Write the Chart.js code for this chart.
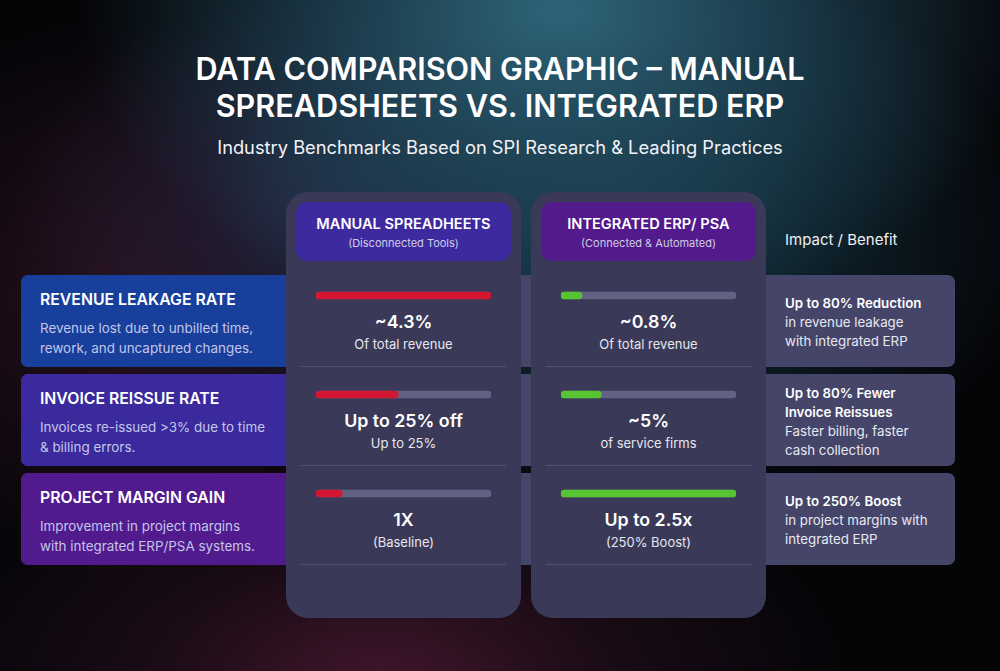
<!DOCTYPE html>
<html><head><meta charset="utf-8">
<script src="https://cdn.jsdelivr.net/npm/chart.js@4.4.0/dist/chart.umd.min.js"></script>
<style>
html,body{margin:0;padding:0;width:1000px;height:671px;overflow:hidden;font-family:Inter,"Noto Sans",sans-serif;}
body{background:
 radial-gradient(ellipse 480px 320px at 560px 10px, rgba(46,100,120,1), rgba(36,80,100,0.7) 45%, rgba(0,0,0,0) 100%),
 radial-gradient(ellipse 420px 280px at 620px 230px, rgba(22,60,76,0.9), rgba(0,0,0,0) 100%),
 radial-gradient(ellipse 320px 220px at 330px 210px, rgba(42,38,70,0.8), rgba(0,0,0,0) 100%),
 radial-gradient(ellipse 460px 240px at 380px 680px, rgba(64,22,44,1), rgba(40,16,30,0.6) 50%, rgba(0,0,0,0) 100%),
 radial-gradient(ellipse 280px 280px at 120px 300px, rgba(54,20,38,0.7), rgba(0,0,0,0) 100%),
 #050508;}
.abs{position:absolute;}
.title{left:0;width:1000px;top:50px;text-align:center;color:#fff;font-weight:600;font-size:30.6px;line-height:37px;}
.sub{left:0;width:1000px;top:136px;text-align:center;color:#f2f2f6;font-size:18.3px;}
.band{left:21px;width:934px;height:92px;background:#454569;border-radius:7px;}
.lab{left:21px;width:265px;height:92px;border-radius:7px 0 0 7px;}
.lab .h{position:absolute;left:19px;top:15px;color:#fff;font-weight:600;font-size:15.8px;}
.lab .d{position:absolute;left:19px;top:43px;color:#c4c6ea;font-size:13.4px;line-height:20px;}
.card{width:235px;top:192px;height:426px;background:#3a3a58;border-radius:22px;}
.hdr{width:215px;height:59px;top:202px;border-radius:11px;text-align:center;}
.hdr .a{margin-top:13px;color:#fff;font-weight:600;font-size:14.6px;}
.hdr .b{margin-top:3px;color:#d0cfe6;font-size:11px;}
.val{width:235px;text-align:center;}
.val .v{color:#fff;font-weight:600;font-size:17.8px;}
.val .s{color:#e6e6f0;font-size:13px;margin-top:4px;}
.div{height:1px;width:205px;background:#51527a;}
.imp{left:785px;color:#e8e8f2;font-size:13.3px;line-height:19px;}
.imp b{font-weight:600;color:#fff;}
canvas{display:block;}
</style></head><body>
<div id="root"></div>
<script>
// ---- data ----
const metrics = ["REVENUE LEAKAGE RATE", "INVOICE REISSUE RATE", "PROJECT MARGIN GAIN"];
const metricDesc = [
  "Revenue lost due to unbilled time,<br>rework, and uncaptured changes.",
  "Invoices re-issued &gt;3% due to time<br>&amp; billing errors.",
  "Improvement in project margins<br>with integrated ERP/PSA systems."
];
const manualFill = [100, 47, 15];   // bar fill (% of track)
const erpFill = [12, 23, 100];
const trackMax = [100, 100, 100];
const manualValue = ["~4.3%", "Up to 25% off", "1X"];
const manualNote = ["Of total revenue", "Up to 25%", "(Baseline)"];
const erpValue = ["~0.8%", "~5%", "Up to 2.5x"];
const erpNote = ["Of total revenue", "of service firms", "(250% Boost)"];
const impactHead = ["Up to 80% Reduction", "Up to 80% Fewer<br>Invoice Reissues", "Up to 250% Boost"];
const impactBody = ["in revenue leakage<br>with integrated ERP", "Faster billing, faster<br>cash collection", "in project margins with<br>integrated ERP"];

// ---- layout ----
const root = document.getElementById('root');
function el(cls, style, html){const d=document.createElement('div');d.className='abs '+cls;Object.assign(d.style,style);if(html!==undefined)d.innerHTML=html;root.appendChild(d);return d;}
el('title',{}, "DATA COMPARISON GRAPHIC – MANUAL<br>SPREADSHEETS VS. INTEGRATED ERP");
el('sub',{}, "Industry Benchmarks Based on SPI Research &amp; Leading Practices");
const rowTop=[275,374,473];
const labColors=["#173f9b","#3a2a9d","#511b8d"];
rowTop.forEach((t,i)=>{
  el('band',{top:t+'px'});
  el('lab',{top:t+'px',background:labColors[i]}, `<div class="h">${metrics[i]}</div><div class="d">${metricDesc[i]}</div>`);
});
el('card',{left:'286px'});
el('card',{left:'531px'});
el('hdr',{left:'296px',background:'#3d2a9f'},'<div class="a">MANUAL SPREADHEETS</div><div class="b">(Disconnected Tools)</div>');
el('hdr',{left:'541px',background:'#521a8b'},'<div class="a">INTEGRATED ERP/ PSA</div><div class="b">(Connected &amp; Automated)</div>');
el('imp',{top:'230px',fontSize:'15px',color:'#eef0f4'},'Impact / Benefit');
rowTop.forEach((t,i)=>{
  el('val',{left:'286px',top:(t+36)+'px'},`<div class="v">${manualValue[i]}</div><div class="s">${manualNote[i]}</div>`);
  el('val',{left:'531px',top:(t+36)+'px'},`<div class="v">${erpValue[i]}</div><div class="s">${erpNote[i]}</div>`);
  el('div',{left:'301px',top:(t+91)+'px'});
  el('div',{left:'546px',top:(t+91)+'px'});
  const lines = impactHead[i].split('<br>').length;
  el('imp',{top:(t+ (lines>1?10:19))+'px'},`<b>${impactHead[i]}</b><br>${impactBody[i]}`);
});

function barChart(left, fill, color){
  const wrap = el('',{left:left+'px',top:'245.5px',width:'175px',height:'297px'});
  const c=document.createElement('canvas');wrap.appendChild(c);
  new Chart(c,{type:'bar',
    data:{labels:metrics,datasets:[
      {data:fill,backgroundColor:color,barThickness:7,borderRadius:4,borderSkipped:false,grouped:false,order:0},
      {data:trackMax,backgroundColor:'#626384',barThickness:7,borderRadius:4,borderSkipped:false,grouped:false,order:1}
    ]},
    options:{indexAxis:'y',responsive:true,maintainAspectRatio:false,animation:false,
      layout:{padding:0},
      plugins:{legend:{display:false},tooltip:{enabled:false}},
      scales:{x:{display:false,min:0,max:100},y:{display:false,offset:true}}}
  });
}
barChart(316, manualFill, '#d31730');
barChart(561, erpFill, '#58c432');
</script>
</body></html>
